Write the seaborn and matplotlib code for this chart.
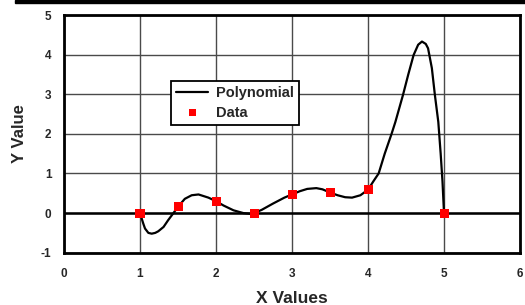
import matplotlib
matplotlib.use("Agg")
import matplotlib.pyplot as plt
import seaborn as sns
import pandas as pd

# measured data points
data_x = [1.0, 1.5, 2.0, 2.5, 3.0, 3.5, 4.0, 5.0]
data_y = [0.0, 0.16, 0.30, 0.0, 0.47, 0.52, 0.59, 0.0]

# polynomial curve
curve_x = [1.0, 1.044, 1.066, 1.11, 1.154, 1.2, 1.24, 1.31, 1.37, 1.44, 1.5, 1.59, 1.68, 1.77,
           1.9, 2.0, 2.1, 2.23, 2.36, 2.45, 2.5, 2.6, 2.75, 2.9, 3.0, 3.1, 3.2, 3.32,
           3.4, 3.5, 3.6, 3.7, 3.79, 3.9, 4.0, 4.07, 4.14, 4.22, 4.31, 4.36, 4.46, 4.53,
           4.6, 4.66, 4.71, 4.76, 4.79, 4.84, 4.88, 4.925, 4.956, 4.98, 5.0]
curve_y = [0.0, -0.27, -0.39, -0.50, -0.52, -0.50, -0.46, -0.35, -0.18, 0.0, 0.16, 0.36, 0.45, 0.47,
           0.39, 0.30, 0.19, 0.07, 0.0, -0.02, 0.0, 0.08, 0.24, 0.39, 0.47, 0.55, 0.61, 0.63,
           0.60, 0.52, 0.45, 0.40, 0.39, 0.45, 0.59, 0.80, 1.0, 1.5, 2.0, 2.3, 2.98, 3.5,
           3.99, 4.25, 4.33, 4.27, 4.16, 3.66, 2.98, 2.3, 1.5, 0.8, 0.0]

x_ticks = [0, 1, 2, 3, 4, 5, 6]
y_ticks = [-1, 0, 1, 2, 3, 4, 5]

sns.set_style("white")
plt.rcParams["font.family"] = ["Liberation Sans", "DejaVu Sans"]
plt.rcParams["font.weight"] = "bold"
plt.rcParams["axes.unicode_minus"] = False

curve = pd.DataFrame({"x": curve_x, "y": curve_y})
points = pd.DataFrame({"x": data_x, "y": data_y})

fig = plt.figure(figsize=(5.25, 3.05), dpi=100)
ax = fig.add_axes([0.1219, 0.1715, 0.8686, 0.7793])

# black bar along the top edge
fig.patches.append(plt.Rectangle((15 / 525, 1 - 3 / 305), 1, 3 / 305,
                                 transform=fig.transFigure, color="black", zorder=10))

ax.set_xlim(0, 6)
ax.set_ylim(-1, 5)
ax.set_xticks(x_ticks)
ax.set_yticks(y_ticks)
ax.grid(True, color="#4a4a4a", linewidth=1.0)
ax.axhline(0, color="black", linewidth=1.8, zorder=1.5)

sns.lineplot(data=curve, x="x", y="y", ax=ax, color="black", linewidth=1.6,
             sort=False, label="Polynomial", zorder=3)
sns.scatterplot(data=points, x="x", y="y", ax=ax, marker="s", s=42, color="red",
                edgecolor="none", label="Data", zorder=4)

for sp in ax.spines.values():
    sp.set_visible(True)
    sp.set_color("black")
    sp.set_linewidth(2)

ax.tick_params(axis="both", labelsize=8.5, length=2, width=1, color="black",
               direction="out")
ax.tick_params(axis="x", pad=9)
ax.tick_params(axis="y", pad=7)
for lab in ax.get_xticklabels() + ax.get_yticklabels():
    lab.set_fontweight("bold")

ax.set_xlabel("X Values", fontsize=12.5, fontweight="bold", labelpad=8)
ax.set_ylabel("Y Value", fontsize=12, fontweight="bold", labelpad=10)

leg = ax.legend(loc="upper left", bbox_to_anchor=(0.235, 0.724), borderaxespad=0,
                fontsize=10.5, frameon=True, fancybox=False, framealpha=1,
                edgecolor="black", borderpad=0.35, handlelength=2.2, handletextpad=0.5,
                labelspacing=0.4, markerscale=0.8)
leg.get_frame().set_linewidth(1.3)
for t in leg.get_texts():
    t.set_fontweight("bold")

fig.savefig("out.png", dpi=100)
